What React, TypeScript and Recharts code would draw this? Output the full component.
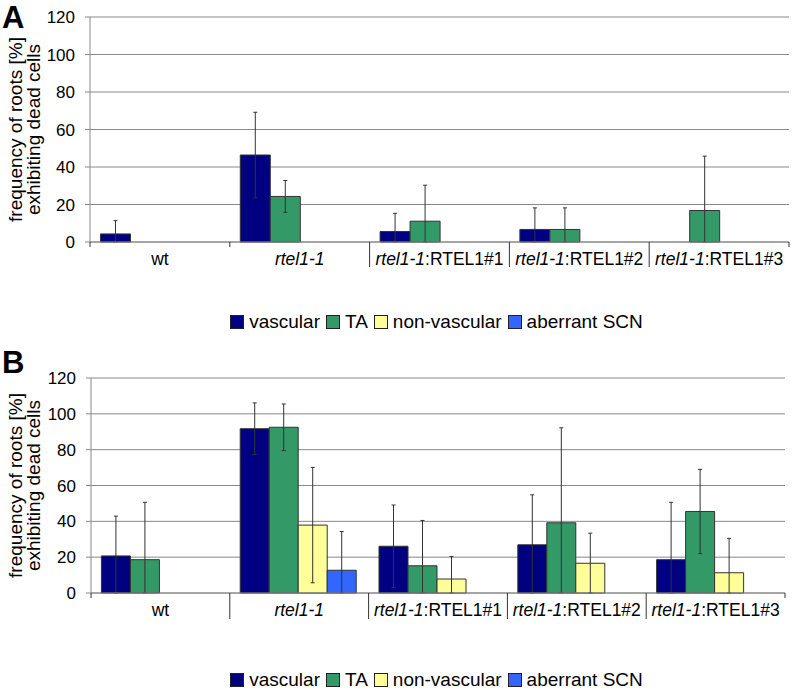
import React from "react";
import { BarChart, Bar, XAxis, YAxis, CartesianGrid, ErrorBar } from "recharts";

const categories = ["wt", "rtel1-1", "rtel1-1:RTEL1#1", "rtel1-1:RTEL1#2", "rtel1-1:RTEL1#3"];
const yTicks = [0, 20, 40, 60, 80, 100, 120];

// panel A
const vascularA = [4.3, 46.4, 5.6, 6.7, null];
const vascularErrA = [7.1, 22.8, 9.7, 11.5, null];
const taA = [null, 24.3, 11.1, 6.7, 16.8];
const taErrA = [null, 8.5, 19.2, 11.5, 29];
const nonVascularA = [null, null, null, null, null];
const nonVascularErrA = [null, null, null, null, null];
const scnA = [null, null, null, null, null];
const scnErrA = [null, null, null, null, null];

// panel B
const vascularB = [20.7, 91.7, 26.1, 26.9, 18.6];
const vascularErrB = [22.2, 14.4, 23, 27.9, 32];
const taB = [18.6, 92.5, 15.2, 39.2, 45.5];
const taErrB = [32, 13, 25.3, 53, 23.5];
const nonVascularB = [null, 37.9, 7.8, 16.6, 11.3];
const nonVascularErrB = [null, 32.2, 12.6, 16.8, 19.2];
const scnB = [null, 12.7, null, null, null];
const scnErrB = [null, 21.6, null, null, null];

const series = [
  { key: "vascular", label: "vascular", color: "#000080" },
  { key: "ta", label: "TA", color: "#339966" },
  { key: "nonVascular", label: "non-vascular", color: "#FFFF99" },
  { key: "scn", label: "aberrant SCN", color: "#3366FF" },
];

const FONT = "'Liberation Sans', Arial, sans-serif";

// error bars are cut at the x axis
const errPair = (v: number | null, e: number | null) =>
  v == null || e == null ? undefined : [Math.min(e, v), e];

function buildRows(vals: (number | null)[][], errs: (number | null)[][]) {
  return categories.map((c, i) => {
    const row: any = { category: c };
    series.forEach((s, k) => {
      row[s.key] = vals[k][i];
      row[s.key + "Err"] = errPair(vals[k][i], errs[k][i]);
    });
    return row;
  });
}

const dataA = buildRows(
  [vascularA, taA, nonVascularA, scnA],
  [vascularErrA, taErrA, nonVascularErrA, scnErrA]
);
const dataB = buildRows(
  [vascularB, taB, nonVascularB, scnB],
  [vascularErrB, taErrB, nonVascularErrB, scnErrB]
);

function CategoryTick(props: any) {
  const { x, y, payload, index, band, seps, count } = props;
  const label = String(payload.value);
  const parts = label.split(":");
  const left = x - band / 2;
  return (
    <g>
      <line x1={left} x2={left} y1={y} y2={y + seps[index]} stroke="#333" />
      {index === count - 1 && (
        <line x1={x + band / 2} x2={x + band / 2} y1={y} y2={y + seps[count]} stroke="#333" />
      )}
      <text
        x={x}
        y={y + 23}
        textAnchor="middle"
        fill="#000"
        style={{ fontSize: 17.5, fontFamily: FONT }}
      >
        {label === "wt" ? (
          "wt"
        ) : (
          <>
            <tspan fontStyle="italic">{parts[0]}</tspan>
            {parts[1] && <tspan>:{parts[1]}</tspan>}
          </>
        )}
      </text>
    </g>
  );
}

function ValueTick(props: any) {
  const { x, y, payload } = props;
  return (
    <text
      x={x}
      y={y}
      dy={6}
      textAnchor="end"
      fill="#000"
      style={{ fontSize: 17, fontFamily: FONT }}
    >
      {payload.value}
    </text>
  );
}

function YTitle(props: any) {
  const vb = props.viewBox || { y: 0, height: 0 };
  const cy = vb.y + vb.height / 2;
  const st = { fontSize: 19, fontFamily: FONT };
  return (
    <g fill="#000">
      <text transform={`translate(22, ${cy}) rotate(-90)`} textAnchor="middle" style={st}>
        frequency of roots [%]
      </text>
      <text transform={`translate(40, ${cy}) rotate(-90)`} textAnchor="middle" style={st}>
        exhibiting dead cells
      </text>
    </g>
  );
}

function LegendRow({ top }: { top: number }) {
  return (
    <div
      style={{
        position: "absolute",
        left: 90,
        width: 699,
        top,
        height: 22,
        display: "flex",
        justifyContent: "center",
        alignItems: "center",
        fontFamily: FONT,
        fontSize: 19,
        lineHeight: "22px",
      }}
    >
      {series.map((s) => (
        <div key={s.key} style={{ display: "flex", alignItems: "center", marginRight: 6 }}>
          <span
            style={{
              display: "inline-block",
              width: 12,
              height: 12,
              background: s.color,
              border: "1px solid #222",
              marginRight: 5,
            }}
          />
          <span>{s.label}</span>
        </div>
      ))}
    </div>
  );
}

function Panel({
  data,
  height,
  margin,
  yWidth,
  seps,
}: {
  data: any[];
  height: number;
  margin: any;
  yWidth: number;
  seps: number[];
}) {
  const band = (793 - yWidth - margin.right) / categories.length;
  return (
    <BarChart
      width={793}
      height={height}
      data={data}
      margin={margin}
      barCategoryGap="7.5%"
      barGap={0}
    >
      <CartesianGrid vertical={false} stroke="#888" />
      <XAxis
        dataKey="category"
        stroke="#888"
        tickLine={false}
        tickSize={0}
        tickMargin={0}
        interval={0}
        tick={<CategoryTick band={band} seps={seps} count={categories.length} />}
      />
      <YAxis
        width={yWidth}
        domain={[0, 120]}
        ticks={yTicks}
        stroke="#888"
        tickSize={5}
        tickMargin={10}
        tick={<ValueTick />}
        label={<YTitle />}
      />
      {series.map((s) => (
        <Bar
          key={s.key}
          dataKey={s.key}
          fill={s.color}
          stroke="#333"
          strokeWidth={1}
          isAnimationActive={false}
        >
          <ErrorBar
            dataKey={s.key + "Err"}
            width={2}
            stroke="#333"
            strokeWidth={1}
            direction="y"
            isAnimationActive={false}
          />
        </Bar>
      ))}
    </BarChart>
  );
}

export default function App() {
  return (
    <div style={{ position: "absolute", left: 0, top: 0, width: 793, height: 690, background: "#fff" }}>
      <div style={{ position: "absolute", left: 0, top: 0 }}>
        <Panel
          data={dataA}
          height={340}
          margin={{ top: 17, right: 4, bottom: 68, left: 0 }}
          yWidth={90}
          seps={[5, 5, 25, 25, 25, 5]}
        />
      </div>
      <LegendRow top={311} />
      <div style={{ position: "absolute", left: 0, top: 340 }}>
        <Panel
          data={dataB}
          height={350}
          margin={{ top: 38, right: 8, bottom: 67, left: 0 }}
          yWidth={91}
          seps={[5, 26, 26, 26, 26, 5]}
        />
      </div>
      <LegendRow top={669} />
      <div style={{ position: "absolute", left: 2, top: 0, fontFamily: FONT, fontWeight: "bold", fontSize: 31 }}>
        A
      </div>
      <div style={{ position: "absolute", left: 2, top: 345, fontFamily: FONT, fontWeight: "bold", fontSize: 31 }}>
        B
      </div>
    </div>
  );
}
